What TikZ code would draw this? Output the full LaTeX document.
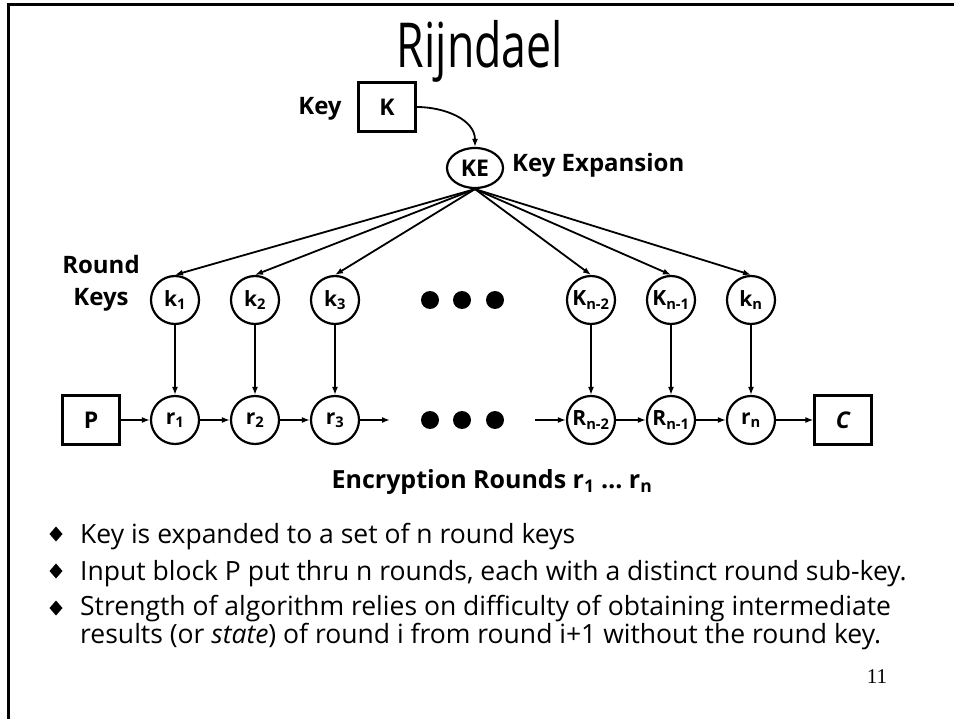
\documentclass[tikz,border=0pt]{standalone}
\usepackage{fontspec}
\setmainfont{Open Sans}
\newfontfamily\titlefont[FakeStretch=0.72]{Open Sans}
\newfontfamily\pagefont{Liberation Serif}
\usetikzlibrary{positioning, arrows.meta, shapes.geometric}
\newcommand{\idx}[1]{\textsubscript{#1}}

\begin{document}
\begin{tikzpicture}[x=1pt, y=-1pt, node distance=80pt, on grid, >={Latex[length=8pt,width=6pt]}]
    \tikzset{
        rnd/.style={circle, draw, line width=2.2pt, minimum size=48pt, inner sep=0pt, font=\fontsize{21}{21}\selectfont\bfseries},
        blk/.style={rectangle, draw, line width=2.2pt, minimum width=57pt, minimum height=49pt, font=\fontsize{23}{23}\selectfont\bfseries},
        lbl/.style={inner sep=0pt, align=center, font=\fontsize{24}{32}\selectfont\bfseries},
        txt/.style={inner sep=0pt, anchor=base west, align=left, font=\fontsize{26.5}{26}\selectfont},
        wire/.style={line width=1.8pt}
    }
    \useasboundingbox (0,0) rectangle (954,719);
    \draw[line width=3pt] (8,719) -- (8,5) -- (954,5);

    \node[font=\fontsize{62}{62}\selectfont\titlefont, anchor=base] (title) at (480,68) {Rijndael};

    % key and key expansion
    \node[blk] (K) at (387,107) {K};
    \node[lbl] (keylbl) at (320,109) {Key};
    \node[ellipse, draw, line width=2.2pt, minimum width=56pt, minimum height=40pt, inner sep=0pt,
          font=\fontsize{23}{23}\selectfont\bfseries] (KE) at (475,168) {KE};
    \node[lbl, anchor=west] (kexp) at (512,165) {Key Expansion};
    \node[lbl] (rkeys) at (101,283) {Round\\Keys};

    % round keys
    \node[rnd] (k1) at (175,300) {k\idx{1}};
    \node[rnd] (k2) [right=of k1] {k\idx{2}};
    \node[rnd] (k3) [right=of k2] {k\idx{3}};
    \node[rnd] (k4) [right=256pt of k3] {K\idx{n-2}};
    \node[rnd] (k5) [right=of k4] {K\idx{n-1}};
    \node[rnd] (k6) [right=of k5] {k\idx{n}};

    % rounds
    \node[rnd] (r1) [below=120pt of k1] {r\idx{1}};
    \node[rnd] (r2) [below=120pt of k2] {r\idx{2}};
    \node[rnd] (r3) [below=120pt of k3] {r\idx{3}};
    \node[rnd] (r4) [below=120pt of k4] {R\idx{n-2}};
    \node[rnd] (r5) [below=120pt of k5] {R\idx{n-1}};
    \node[rnd] (r6) [below=120pt of k6] {r\idx{n}};
    \node[blk] (P) [left=84pt of r1] {P};
    \node[blk] (C) [right=92pt of r6] {\itshape C};
    \coordinate (gapL) at (390,420);
    \coordinate (gapR) at (535,420);

    \foreach \x in {430,462,495} {
        \fill (\x,300) circle (9pt);
        \fill (\x,420) circle (9pt);
    }

    \draw[wire, ->] (K.east) to[out=0, in=90] (KE.north);
    \path[wire, ->]
    (KE.south) edge (k1.north)
    (KE.south) edge (k2.north)
    (KE.south) edge (k3.north)
    (KE.south) edge (k4.north)
    (KE.south) edge (k5.north)
    (KE.south) edge (k6.north);
    \path[wire, ->]
    (k1) edge (r1)
    (k2) edge (r2)
    (k3) edge (r3)
    (k4) edge (r4)
    (k5) edge (r5)
    (k6) edge (r6)
    (P) edge (r1)
    (r1) edge (r2)
    (r2) edge (r3)
    (r3) edge (gapL)
    (gapR) edge (r4)
    (r4) edge (r5)
    (r5) edge (r6)
    (r6) edge (C);

    \node[lbl, font=\fontsize{25}{25}\selectfont\bfseries] (enc) at (492,482) {Encryption Rounds r\idx{1} \ldots\ r\idx{n}};

    % bullet points
    \foreach \y in {534,571,608} {
        \fill[shift={(56,\y)}] (0,-7.5) -- (6.5,0) -- (0,7.5) -- (-6.5,0) -- cycle;
    }
    \node[txt] (b1) at (80,543) {Key is expanded to a set of n round keys};
    \node[txt] (b2) at (80,580) {Input block P put thru n rounds, each with a distinct round sub-key.};
    \node[txt] (b3) at (80,643) {Strength of algorithm relies on difficulty of obtaining intermediate\\results (or \textit{state}) of round i from round i+1 without the round key.};

    \node[font=\fontsize{21}{21}\selectfont\pagefont, anchor=base] (page) at (877,683) {11};
\end{tikzpicture}
\end{document}
